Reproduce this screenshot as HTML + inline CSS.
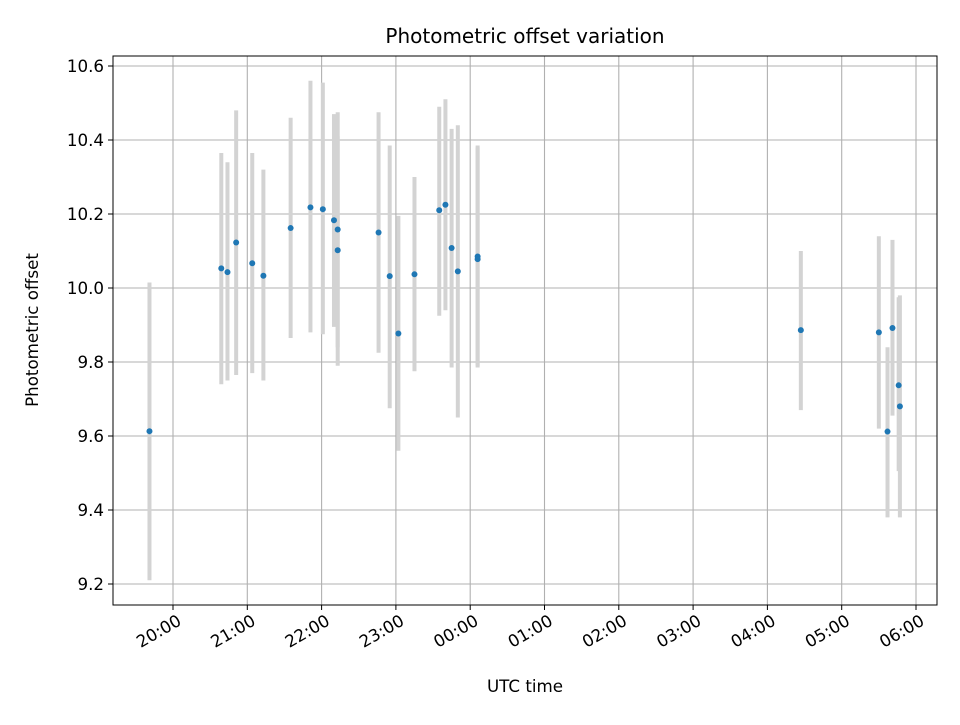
<!DOCTYPE html>
<html><head><meta charset="utf-8"><style>
body{margin:0;background:#fff}
svg text{font-family:"DejaVu Sans","Liberation Sans",sans-serif;fill:#000}
</style></head><body>
<svg id="chart" width="960" height="720" xmlns="http://www.w3.org/2000/svg">
<rect width="960" height="720" fill="#fff"/>
<g id="grid"></g>
<g id="bars"></g>
<g id="pts"></g>
<rect x="113" y="56" width="824" height="549" fill="none" stroke="#000" stroke-width="1"/>
<g id="xt"></g>
<g id="yt"></g>
<text x="525" y="43" text-anchor="middle" font-size="20">Photometric offset variation</text>
<text x="525" y="692" text-anchor="middle" font-size="16.7">UTC time</text>
<text transform="translate(38,330) rotate(-90)" text-anchor="middle" font-size="16.7">Photometric offset</text>
</svg>
<script>
// minutes since 20:00 UTC
const times=[-19,39,44,51,64,73,95,111,121,130,133,133,166,175,182,195,215,220,225,230,246,246,507,570,577,581,586,587];
const offsets=[9.613,10.053,10.043,10.123,10.067,10.033,10.162,10.218,10.213,10.183,10.158,10.102,10.15,10.032,9.877,10.037,10.21,10.225,10.108,10.045,10.085,10.078,9.886,9.88,9.612,9.892,9.737,9.68];
const lows=[9.21,9.74,9.75,9.765,9.77,9.75,9.865,9.88,9.875,9.895,9.84,9.79,9.825,9.675,9.56,9.775,9.925,9.94,9.785,9.65,9.785,9.79,9.67,9.62,9.38,9.655,9.505,9.38];
const highs=[10.015,10.365,10.34,10.48,10.365,10.32,10.46,10.56,10.555,10.47,10.475,10.41,10.475,10.385,10.195,10.30,10.49,10.51,10.43,10.44,10.385,10.38,10.10,10.14,9.84,10.13,9.975,9.98];
const xTickLabels=["20:00","21:00","22:00","23:00","00:00","01:00","02:00","03:00","04:00","05:00","06:00"];
const yTickLabels=["9.2","9.4","9.6","9.8","10.0","10.2","10.4","10.6"];
const NS="http://www.w3.org/2000/svg";
const X=m=>173+m/60*74.3;
const Y=v=>288-(v-10)*370;
function mk(t,a,p){const e=document.createElementNS(NS,t);for(const k in a)e.setAttribute(k,a[k]);p.appendChild(e);return e;}
const grid=document.getElementById('grid'),xt=document.getElementById('xt'),yt=document.getElementById('yt');
xTickLabels.forEach((l,i)=>{const x=X(i*60);
 const g=mk('line',{x1:x,x2:x,y1:56,y2:605,stroke:'#b0b0b0','stroke-width':1.1},grid);
 
 
 mk('line',{x1:x,x2:x,y1:605,y2:610,stroke:'#000'},xt);
 const t=mk('text',{x:x+3,y:613,'font-size':16.7,'text-anchor':'end',transform:`rotate(-30 ${x+3} 613)`,'dominant-baseline':'hanging'},xt);
 t.textContent=l;
 
 
});
yTickLabels.forEach(l=>{const y=Y(parseFloat(l));
 const g=mk('line',{x1:113,x2:937,y1:y,y2:y,stroke:'#b0b0b0','stroke-width':1.1},grid);
 
 
 mk('line',{x1:108,x2:113,y1:y,y2:y,stroke:'#000'},yt);
 const t=mk('text',{x:104,y:y+6,'font-size':16.7,'text-anchor':'end'},yt);
 t.textContent=l;
 
 
});
const bars=document.getElementById('bars'),pts=document.getElementById('pts');
times.forEach((m,i)=>{const x=X(m);
 const b=mk('line',{x1:x,x2:x,y1:Y(lows[i]),y2:Y(highs[i]),stroke:'#d3d3d3','stroke-width':4},bars);
 
 
});
times.forEach((m,i)=>{
 const c=mk('circle',{cx:X(m),cy:Y(offsets[i]),r:3,fill:'#1f77b4'},pts);
 
 
});
</script>
</body></html>
